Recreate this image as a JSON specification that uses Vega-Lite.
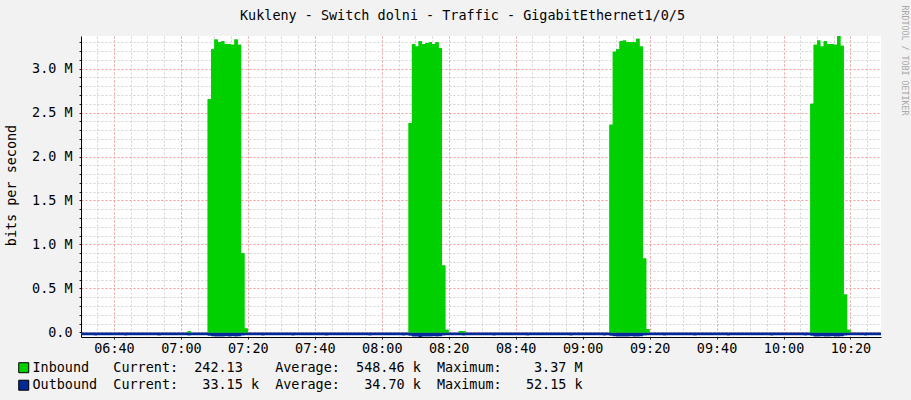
{
"$schema": "https://vega.github.io/schema/vega-lite/v6.json",
"width": 800, "height": 301,
"autosize": {"type": "none"},
"padding": {"left": 81, "top": 36, "right": 30, "bottom": 63},
"background": "#f2f2f2",
"config": {"view": {"fill": "#ffffff", "stroke": null}, "font": "DejaVu Sans Mono"},
"data": {"values": [
{"t":"2024-05-01T06:30Z","i":0.0002,"o":-0.032},{"t":"2024-05-01T06:31Z","i":0.0002,"o":-0.031},{"t":"2024-05-01T06:32Z","i":0.0002,"o":-0.033},{"t":"2024-05-01T06:33Z","i":0.0002,"o":-0.032},{"t":"2024-05-01T06:34Z","i":0.0002,"o":-0.034},{"t":"2024-05-01T06:35Z","i":0.0002,"o":-0.032},{"t":"2024-05-01T06:36Z","i":0.0002,"o":-0.031},{"t":"2024-05-01T06:37Z","i":0.0002,"o":-0.033},{"t":"2024-05-01T06:38Z","i":0.0002,"o":-0.032},{"t":"2024-05-01T06:39Z","i":0.0002,"o":-0.032},
{"t":"2024-05-01T06:40Z","i":0.0002,"o":-0.033},{"t":"2024-05-01T06:41Z","i":0.0002,"o":-0.031},{"t":"2024-05-01T06:42Z","i":0.0002,"o":-0.032},{"t":"2024-05-01T06:43Z","i":0.0002,"o":-0.034},{"t":"2024-05-01T06:44Z","i":0.0002,"o":-0.032},{"t":"2024-05-01T06:45Z","i":0.0002,"o":-0.031},{"t":"2024-05-01T06:46Z","i":0.0002,"o":-0.032},{"t":"2024-05-01T06:47Z","i":0.0002,"o":-0.033},{"t":"2024-05-01T06:48Z","i":0.0002,"o":-0.032},{"t":"2024-05-01T06:49Z","i":0.0002,"o":-0.031},
{"t":"2024-05-01T06:50Z","i":0.0002,"o":-0.032},{"t":"2024-05-01T06:51Z","i":0.0002,"o":-0.033},{"t":"2024-05-01T06:52Z","i":0.0002,"o":-0.032},{"t":"2024-05-01T06:53Z","i":0.0002,"o":-0.034},{"t":"2024-05-01T06:54Z","i":0.0002,"o":-0.032},{"t":"2024-05-01T06:55Z","i":0.0002,"o":-0.031},{"t":"2024-05-01T06:56Z","i":0.0002,"o":-0.032},{"t":"2024-05-01T06:57Z","i":0.0002,"o":-0.033},{"t":"2024-05-01T06:58Z","i":0.0002,"o":-0.032},{"t":"2024-05-01T06:59Z","i":0.0002,"o":-0.031},
{"t":"2024-05-01T07:00Z","i":0.0002,"o":-0.033},{"t":"2024-05-01T07:01Z","i":0.0002,"o":-0.032},{"t":"2024-05-01T07:02Z","i":0.012,"o":-0.034},{"t":"2024-05-01T07:03Z","i":0.0002,"o":-0.032},{"t":"2024-05-01T07:04Z","i":0.0002,"o":-0.031},{"t":"2024-05-01T07:05Z","i":0.0002,"o":-0.032},{"t":"2024-05-01T07:06Z","i":0.0002,"o":-0.033},{"t":"2024-05-01T07:07Z","i":0.0002,"o":-0.032},
{"t":"2024-05-01T07:08Z","i":2.65,"o":-0.038},{"t":"2024-05-01T07:09Z","i":3.22,"o":-0.045},{"t":"2024-05-01T07:10Z","i":3.33,"o":-0.047},{"t":"2024-05-01T07:11Z","i":3.30,"o":-0.046},{"t":"2024-05-01T07:12Z","i":3.31,"o":-0.046},{"t":"2024-05-01T07:13Z","i":3.28,"o":-0.045},{"t":"2024-05-01T07:14Z","i":3.28,"o":-0.046},{"t":"2024-05-01T07:15Z","i":3.27,"o":-0.045},{"t":"2024-05-01T07:16Z","i":3.33,"o":-0.047},{"t":"2024-05-01T07:17Z","i":3.27,"o":-0.045},{"t":"2024-05-01T07:18Z","i":0.90,"o":-0.036},{"t":"2024-05-01T07:19Z","i":0.045,"o":-0.032},
{"t":"2024-05-01T07:20Z","i":0.0002,"o":-0.032},{"t":"2024-05-01T07:21Z","i":0.0002,"o":-0.031},{"t":"2024-05-01T07:22Z","i":0.0002,"o":-0.033},{"t":"2024-05-01T07:23Z","i":0.0002,"o":-0.032},{"t":"2024-05-01T07:24Z","i":0.0002,"o":-0.034},{"t":"2024-05-01T07:25Z","i":0.0002,"o":-0.032},{"t":"2024-05-01T07:26Z","i":0.0002,"o":-0.031},{"t":"2024-05-01T07:27Z","i":0.0002,"o":-0.033},{"t":"2024-05-01T07:28Z","i":0.0002,"o":-0.032},{"t":"2024-05-01T07:29Z","i":0.0002,"o":-0.032},
{"t":"2024-05-01T07:30Z","i":0.0002,"o":-0.033},{"t":"2024-05-01T07:31Z","i":0.0002,"o":-0.031},{"t":"2024-05-01T07:32Z","i":0.0002,"o":-0.032},{"t":"2024-05-01T07:33Z","i":0.0002,"o":-0.034},{"t":"2024-05-01T07:34Z","i":0.0002,"o":-0.032},{"t":"2024-05-01T07:35Z","i":0.0002,"o":-0.031},{"t":"2024-05-01T07:36Z","i":0.0002,"o":-0.032},{"t":"2024-05-01T07:37Z","i":0.0002,"o":-0.033},{"t":"2024-05-01T07:38Z","i":0.0002,"o":-0.032},{"t":"2024-05-01T07:39Z","i":0.0002,"o":-0.031},
{"t":"2024-05-01T07:40Z","i":0.0002,"o":-0.032},{"t":"2024-05-01T07:41Z","i":0.0002,"o":-0.033},{"t":"2024-05-01T07:42Z","i":0.0002,"o":-0.032},{"t":"2024-05-01T07:43Z","i":0.0002,"o":-0.034},{"t":"2024-05-01T07:44Z","i":0.0002,"o":-0.032},{"t":"2024-05-01T07:45Z","i":0.0002,"o":-0.031},{"t":"2024-05-01T07:46Z","i":0.0002,"o":-0.032},{"t":"2024-05-01T07:47Z","i":0.0002,"o":-0.033},{"t":"2024-05-01T07:48Z","i":0.0002,"o":-0.032},{"t":"2024-05-01T07:49Z","i":0.0002,"o":-0.031},
{"t":"2024-05-01T07:50Z","i":0.0002,"o":-0.033},{"t":"2024-05-01T07:51Z","i":0.0002,"o":-0.032},{"t":"2024-05-01T07:52Z","i":0.0002,"o":-0.032},{"t":"2024-05-01T07:53Z","i":0.0002,"o":-0.031},{"t":"2024-05-01T07:54Z","i":0.0002,"o":-0.033},{"t":"2024-05-01T07:55Z","i":0.0002,"o":-0.032},{"t":"2024-05-01T07:56Z","i":0.0002,"o":-0.034},{"t":"2024-05-01T07:57Z","i":0.0002,"o":-0.032},{"t":"2024-05-01T07:58Z","i":0.0002,"o":-0.031},{"t":"2024-05-01T07:59Z","i":0.0002,"o":-0.032},
{"t":"2024-05-01T08:00Z","i":0.0002,"o":-0.033},{"t":"2024-05-01T08:01Z","i":0.0002,"o":-0.032},{"t":"2024-05-01T08:02Z","i":0.0002,"o":-0.031},{"t":"2024-05-01T08:03Z","i":0.0002,"o":-0.032},{"t":"2024-05-01T08:04Z","i":0.0002,"o":-0.033},{"t":"2024-05-01T08:05Z","i":0.0002,"o":-0.032},{"t":"2024-05-01T08:06Z","i":0.0002,"o":-0.034},{"t":"2024-05-01T08:07Z","i":0.0002,"o":-0.032},
{"t":"2024-05-01T08:08Z","i":2.38,"o":-0.038},{"t":"2024-05-01T08:09Z","i":3.28,"o":-0.046},{"t":"2024-05-01T08:10Z","i":3.25,"o":-0.046},{"t":"2024-05-01T08:11Z","i":3.31,"o":-0.0522},{"t":"2024-05-01T08:12Z","i":3.28,"o":-0.047},{"t":"2024-05-01T08:13Z","i":3.29,"o":-0.046},{"t":"2024-05-01T08:14Z","i":3.30,"o":-0.046},{"t":"2024-05-01T08:15Z","i":3.28,"o":-0.045},{"t":"2024-05-01T08:16Z","i":3.30,"o":-0.046},{"t":"2024-05-01T08:17Z","i":3.23,"o":-0.045},{"t":"2024-05-01T08:18Z","i":0.76,"o":-0.036},{"t":"2024-05-01T08:19Z","i":0.03,"o":-0.032},
{"t":"2024-05-01T08:20Z","i":0.0002,"o":-0.032},{"t":"2024-05-01T08:21Z","i":0.0002,"o":-0.031},{"t":"2024-05-01T08:22Z","i":0.0002,"o":-0.033},{"t":"2024-05-01T08:23Z","i":0.015,"o":-0.032},{"t":"2024-05-01T08:24Z","i":0.015,"o":-0.034},{"t":"2024-05-01T08:25Z","i":0.0002,"o":-0.032},{"t":"2024-05-01T08:26Z","i":0.0002,"o":-0.031},{"t":"2024-05-01T08:27Z","i":0.0002,"o":-0.033},{"t":"2024-05-01T08:28Z","i":0.0002,"o":-0.032},{"t":"2024-05-01T08:29Z","i":0.0002,"o":-0.032},
{"t":"2024-05-01T08:30Z","i":0.0002,"o":-0.033},{"t":"2024-05-01T08:31Z","i":0.0002,"o":-0.031},{"t":"2024-05-01T08:32Z","i":0.0002,"o":-0.032},{"t":"2024-05-01T08:33Z","i":0.0002,"o":-0.034},{"t":"2024-05-01T08:34Z","i":0.0002,"o":-0.032},{"t":"2024-05-01T08:35Z","i":0.0002,"o":-0.031},{"t":"2024-05-01T08:36Z","i":0.0002,"o":-0.032},{"t":"2024-05-01T08:37Z","i":0.0002,"o":-0.033},{"t":"2024-05-01T08:38Z","i":0.0002,"o":-0.032},{"t":"2024-05-01T08:39Z","i":0.0002,"o":-0.031},
{"t":"2024-05-01T08:40Z","i":0.0002,"o":-0.032},{"t":"2024-05-01T08:41Z","i":0.0002,"o":-0.033},{"t":"2024-05-01T08:42Z","i":0.0002,"o":-0.032},{"t":"2024-05-01T08:43Z","i":0.0002,"o":-0.034},{"t":"2024-05-01T08:44Z","i":0.0002,"o":-0.032},{"t":"2024-05-01T08:45Z","i":0.0002,"o":-0.031},{"t":"2024-05-01T08:46Z","i":0.0002,"o":-0.032},{"t":"2024-05-01T08:47Z","i":0.0002,"o":-0.033},{"t":"2024-05-01T08:48Z","i":0.0002,"o":-0.032},{"t":"2024-05-01T08:49Z","i":0.0002,"o":-0.031},
{"t":"2024-05-01T08:50Z","i":0.0002,"o":-0.033},{"t":"2024-05-01T08:51Z","i":0.0002,"o":-0.032},{"t":"2024-05-01T08:52Z","i":0.0002,"o":-0.032},{"t":"2024-05-01T08:53Z","i":0.0002,"o":-0.031},{"t":"2024-05-01T08:54Z","i":0.0002,"o":-0.033},{"t":"2024-05-01T08:55Z","i":0.0002,"o":-0.032},{"t":"2024-05-01T08:56Z","i":0.0002,"o":-0.034},{"t":"2024-05-01T08:57Z","i":0.0002,"o":-0.032},{"t":"2024-05-01T08:58Z","i":0.0002,"o":-0.031},{"t":"2024-05-01T08:59Z","i":0.0002,"o":-0.032},
{"t":"2024-05-01T09:00Z","i":0.0002,"o":-0.033},{"t":"2024-05-01T09:01Z","i":0.0002,"o":-0.032},{"t":"2024-05-01T09:02Z","i":0.0002,"o":-0.031},{"t":"2024-05-01T09:03Z","i":0.0002,"o":-0.032},{"t":"2024-05-01T09:04Z","i":0.0002,"o":-0.033},{"t":"2024-05-01T09:05Z","i":0.0002,"o":-0.032},{"t":"2024-05-01T09:06Z","i":0.0002,"o":-0.034},{"t":"2024-05-01T09:07Z","i":0.0002,"o":-0.032},
{"t":"2024-05-01T09:08Z","i":2.36,"o":-0.038},{"t":"2024-05-01T09:09Z","i":3.19,"o":-0.045},{"t":"2024-05-01T09:10Z","i":3.22,"o":-0.046},{"t":"2024-05-01T09:11Z","i":3.31,"o":-0.047},{"t":"2024-05-01T09:12Z","i":3.32,"o":-0.046},{"t":"2024-05-01T09:13Z","i":3.30,"o":-0.046},{"t":"2024-05-01T09:14Z","i":3.30,"o":-0.045},{"t":"2024-05-01T09:15Z","i":3.30,"o":-0.046},{"t":"2024-05-01T09:16Z","i":3.34,"o":-0.047},{"t":"2024-05-01T09:17Z","i":3.25,"o":-0.045},{"t":"2024-05-01T09:18Z","i":0.84,"o":-0.036},{"t":"2024-05-01T09:19Z","i":0.04,"o":-0.032},
{"t":"2024-05-01T09:20Z","i":0.0002,"o":-0.032},{"t":"2024-05-01T09:21Z","i":0.0002,"o":-0.031},{"t":"2024-05-01T09:22Z","i":0.0002,"o":-0.033},{"t":"2024-05-01T09:23Z","i":0.0002,"o":-0.032},{"t":"2024-05-01T09:24Z","i":0.0002,"o":-0.034},{"t":"2024-05-01T09:25Z","i":0.0002,"o":-0.032},{"t":"2024-05-01T09:26Z","i":0.0002,"o":-0.031},{"t":"2024-05-01T09:27Z","i":0.0002,"o":-0.033},{"t":"2024-05-01T09:28Z","i":0.0002,"o":-0.032},{"t":"2024-05-01T09:29Z","i":0.0002,"o":-0.032},
{"t":"2024-05-01T09:30Z","i":0.0002,"o":-0.033},{"t":"2024-05-01T09:31Z","i":0.0002,"o":-0.031},{"t":"2024-05-01T09:32Z","i":0.0002,"o":-0.032},{"t":"2024-05-01T09:33Z","i":0.0002,"o":-0.034},{"t":"2024-05-01T09:34Z","i":0.0002,"o":-0.032},{"t":"2024-05-01T09:35Z","i":0.0002,"o":-0.031},{"t":"2024-05-01T09:36Z","i":0.0002,"o":-0.032},{"t":"2024-05-01T09:37Z","i":0.0002,"o":-0.033},{"t":"2024-05-01T09:38Z","i":0.0002,"o":-0.032},{"t":"2024-05-01T09:39Z","i":0.0002,"o":-0.031},
{"t":"2024-05-01T09:40Z","i":0.0002,"o":-0.032},{"t":"2024-05-01T09:41Z","i":0.0002,"o":-0.033},{"t":"2024-05-01T09:42Z","i":0.0002,"o":-0.032},{"t":"2024-05-01T09:43Z","i":0.0002,"o":-0.034},{"t":"2024-05-01T09:44Z","i":0.0002,"o":-0.032},{"t":"2024-05-01T09:45Z","i":0.0002,"o":-0.031},{"t":"2024-05-01T09:46Z","i":0.0002,"o":-0.032},{"t":"2024-05-01T09:47Z","i":0.0002,"o":-0.033},{"t":"2024-05-01T09:48Z","i":0.0002,"o":-0.032},{"t":"2024-05-01T09:49Z","i":0.0002,"o":-0.031},
{"t":"2024-05-01T09:50Z","i":0.0002,"o":-0.033},{"t":"2024-05-01T09:51Z","i":0.0002,"o":-0.032},{"t":"2024-05-01T09:52Z","i":0.0002,"o":-0.032},{"t":"2024-05-01T09:53Z","i":0.0002,"o":-0.031},{"t":"2024-05-01T09:54Z","i":0.0002,"o":-0.033},{"t":"2024-05-01T09:55Z","i":0.0002,"o":-0.032},{"t":"2024-05-01T09:56Z","i":0.0002,"o":-0.034},{"t":"2024-05-01T09:57Z","i":0.0002,"o":-0.032},{"t":"2024-05-01T09:58Z","i":0.0002,"o":-0.031},{"t":"2024-05-01T09:59Z","i":0.0002,"o":-0.032},
{"t":"2024-05-01T10:00Z","i":0.0002,"o":-0.033},{"t":"2024-05-01T10:01Z","i":0.0002,"o":-0.032},{"t":"2024-05-01T10:02Z","i":0.0002,"o":-0.031},{"t":"2024-05-01T10:03Z","i":0.0002,"o":-0.032},{"t":"2024-05-01T10:04Z","i":0.0002,"o":-0.033},{"t":"2024-05-01T10:05Z","i":0.0002,"o":-0.032},{"t":"2024-05-01T10:06Z","i":0.0002,"o":-0.034},{"t":"2024-05-01T10:07Z","i":0.0002,"o":-0.032},
{"t":"2024-05-01T10:08Z","i":2.60,"o":-0.038},{"t":"2024-05-01T10:09Z","i":3.27,"o":-0.046},{"t":"2024-05-01T10:10Z","i":3.32,"o":-0.047},{"t":"2024-05-01T10:11Z","i":3.25,"o":-0.045},{"t":"2024-05-01T10:12Z","i":3.31,"o":-0.046},{"t":"2024-05-01T10:13Z","i":3.28,"o":-0.046},{"t":"2024-05-01T10:14Z","i":3.28,"o":-0.045},{"t":"2024-05-01T10:15Z","i":3.27,"o":-0.046},{"t":"2024-05-01T10:16Z","i":3.37,"o":-0.047},{"t":"2024-05-01T10:17Z","i":3.26,"o":-0.045},{"t":"2024-05-01T10:18Z","i":0.43,"o":-0.035},{"t":"2024-05-01T10:19Z","i":0.03,"o":-0.032},
{"t":"2024-05-01T10:20Z","i":0.0002,"o":-0.032},{"t":"2024-05-01T10:21Z","i":0.0002,"o":-0.031},{"t":"2024-05-01T10:22Z","i":0.0002,"o":-0.033},{"t":"2024-05-01T10:23Z","i":0.0002,"o":-0.032},{"t":"2024-05-01T10:24Z","i":0.0002,"o":-0.034},{"t":"2024-05-01T10:25Z","i":0.0002,"o":-0.032},{"t":"2024-05-01T10:26Z","i":0.0002,"o":-0.031},{"t":"2024-05-01T10:27Z","i":0.0002,"o":-0.033},{"t":"2024-05-01T10:28Z","i":0.0002,"o":-0.032},{"t":"2024-05-01T10:29Z","i":0.00024,"o":-0.0332},{"t":"2024-05-01T10:30Z","i":0.00024,"o":-0.0332}
]},
"resolve": {"axis": {"x": "independent", "y": "independent"}},
"layer": [
{"mark": {"type": "area", "interpolate": "step-after", "clip": true},
 "encoding": {
  "x": {"field": "t", "type": "temporal",
   "scale": {"type": "utc", "domain": [{"year":2024,"month":5,"date":1,"hours":6,"minutes":30,"seconds":10,"utc":true},{"year":2024,"month":5,"date":1,"hours":10,"minutes":29,"seconds":7,"utc":true}]},
   "axis": {"orient": "bottom", "title": null, "labels": false, "ticks": false, "domain": false,
    "values": [{"year":2024,"month":5,"date":1,"hours":6,"minutes":35,"utc":true},{"year":2024,"month":5,"date":1,"hours":6,"minutes":45,"utc":true},{"year":2024,"month":5,"date":1,"hours":6,"minutes":50,"utc":true},{"year":2024,"month":5,"date":1,"hours":6,"minutes":55,"utc":true},
     {"year":2024,"month":5,"date":1,"hours":7,"minutes":5,"utc":true},{"year":2024,"month":5,"date":1,"hours":7,"minutes":10,"utc":true},{"year":2024,"month":5,"date":1,"hours":7,"minutes":15,"utc":true},{"year":2024,"month":5,"date":1,"hours":7,"minutes":25,"utc":true},{"year":2024,"month":5,"date":1,"hours":7,"minutes":30,"utc":true},{"year":2024,"month":5,"date":1,"hours":7,"minutes":35,"utc":true},{"year":2024,"month":5,"date":1,"hours":7,"minutes":45,"utc":true},{"year":2024,"month":5,"date":1,"hours":7,"minutes":50,"utc":true},{"year":2024,"month":5,"date":1,"hours":7,"minutes":55,"utc":true},
     {"year":2024,"month":5,"date":1,"hours":8,"minutes":5,"utc":true},{"year":2024,"month":5,"date":1,"hours":8,"minutes":10,"utc":true},{"year":2024,"month":5,"date":1,"hours":8,"minutes":15,"utc":true},{"year":2024,"month":5,"date":1,"hours":8,"minutes":25,"utc":true},{"year":2024,"month":5,"date":1,"hours":8,"minutes":30,"utc":true},{"year":2024,"month":5,"date":1,"hours":8,"minutes":35,"utc":true},{"year":2024,"month":5,"date":1,"hours":8,"minutes":45,"utc":true},{"year":2024,"month":5,"date":1,"hours":8,"minutes":50,"utc":true},{"year":2024,"month":5,"date":1,"hours":8,"minutes":55,"utc":true},
     {"year":2024,"month":5,"date":1,"hours":9,"minutes":5,"utc":true},{"year":2024,"month":5,"date":1,"hours":9,"minutes":10,"utc":true},{"year":2024,"month":5,"date":1,"hours":9,"minutes":15,"utc":true},{"year":2024,"month":5,"date":1,"hours":9,"minutes":25,"utc":true},{"year":2024,"month":5,"date":1,"hours":9,"minutes":30,"utc":true},{"year":2024,"month":5,"date":1,"hours":9,"minutes":35,"utc":true},{"year":2024,"month":5,"date":1,"hours":9,"minutes":45,"utc":true},{"year":2024,"month":5,"date":1,"hours":9,"minutes":50,"utc":true},{"year":2024,"month":5,"date":1,"hours":9,"minutes":55,"utc":true},
     {"year":2024,"month":5,"date":1,"hours":10,"minutes":5,"utc":true},{"year":2024,"month":5,"date":1,"hours":10,"minutes":10,"utc":true},{"year":2024,"month":5,"date":1,"hours":10,"minutes":15,"utc":true},{"year":2024,"month":5,"date":1,"hours":10,"minutes":25,"utc":true}],
    "grid": true, "gridDash": [2, 2], "gridWidth": 1, "gridColor": "#d2d2d2"}},
  "y": {"field": "i", "type": "quantitative",
   "scale": {"domain": [-0.05215, 3.37], "nice": false},
   "axis": {"orient": "left", "title": null, "labels": false, "domain": false, "tickSize": 2, "tickColor": "#202020",
    "values": [0.1,0.2,0.3,0.4,0.6,0.7,0.8,0.9,1.1,1.2,1.3,1.4,1.6,1.7,1.8,1.9,2.1,2.2,2.3,2.4,2.6,2.7,2.8,2.9,3.1,3.2,3.3],
    "grid": true, "gridDash": [2, 2], "gridWidth": 1, "gridColor": "#d2d2d2"}},
  "y2": {"datum": 0},
  "color": {"datum": "Inbound", "type": "nominal",
   "scale": {"domain": ["Inbound", "Outbound"], "range": ["#00cf00", "#002a97"]},
   "legend": {"orient": "none", "legendX": -64, "legendY": 325, "direction": "vertical", "title": null,
    "symbolType": "square", "symbolSize": 100, "symbolStrokeColor": "#000000", "symbolStrokeWidth": 1, "symbolOpacity": 1,
    "labelFont": "DejaVu Sans Mono", "labelFontSize": 13.45, "labelColor": "#000000", "labelOffset": 2, "rowPadding": 2.5, "padding": 0, "labelLimit": 0,
    "labelExpr": "datum.label == 'Inbound' ? 'Inbound\u00a0\u00a0\u00a0Current:\u00a0\u00a0242.13\u00a0\u00a0\u00a0\u00a0Average:\u00a0\u00a0548.46\u00a0k\u00a0\u00a0Maximum:\u00a0\u00a0\u00a0\u00a03.37\u00a0M' : 'Outbound\u00a0\u00a0Current:\u00a0\u00a0\u00a033.15\u00a0k\u00a0\u00a0Average:\u00a0\u00a0\u00a034.70\u00a0k\u00a0\u00a0Maximum:\u00a0\u00a0\u00a052.15\u00a0k'"}}
 }},
{"mark": {"type": "area", "interpolate": "step-after", "clip": true},
 "encoding": {
  "x": {"field": "t", "type": "temporal",
   "axis": {"orient": "bottom", "title": null, "format": "%H:%M",
    "values": [{"year":2024,"month":5,"date":1,"hours":6,"minutes":40,"utc":true},{"year":2024,"month":5,"date":1,"hours":7,"minutes":0,"utc":true},{"year":2024,"month":5,"date":1,"hours":7,"minutes":20,"utc":true},{"year":2024,"month":5,"date":1,"hours":7,"minutes":40,"utc":true},{"year":2024,"month":5,"date":1,"hours":8,"minutes":0,"utc":true},{"year":2024,"month":5,"date":1,"hours":8,"minutes":20,"utc":true},{"year":2024,"month":5,"date":1,"hours":8,"minutes":40,"utc":true},{"year":2024,"month":5,"date":1,"hours":9,"minutes":0,"utc":true},{"year":2024,"month":5,"date":1,"hours":9,"minutes":20,"utc":true},{"year":2024,"month":5,"date":1,"hours":9,"minutes":40,"utc":true},{"year":2024,"month":5,"date":1,"hours":10,"minutes":0,"utc":true},{"year":2024,"month":5,"date":1,"hours":10,"minutes":20,"utc":true}],
    "labelFont": "DejaVu Sans Mono", "labelFontSize": 13.45, "labelColor": "#000000", "labelPadding": 2, "labelFlush": false, "labelOverlap": false,
    "tickSize": 2, "tickColor": "#202020", "domainColor": "#000000", "domainWidth": 1,
    "grid": true, "gridDash": [2, 2], "gridWidth": 1, "gridColor": "#f29b9b"}},
  "y": {"field": "o", "type": "quantitative",
   "axis": {"orient": "left", "title": "bits per second", "titleX": -70, "titleY": 149, "titleAngle": -90, "titleAlign": "center", "titleBaseline": "middle",
    "titleFont": "DejaVu Sans Mono", "titleFontSize": 13.45, "titleFontWeight": "normal", "titleColor": "#000000",
    "values": [0, 0.5, 1, 1.5, 2, 2.5, 3],
    "labelExpr": "datum.value == 0 ? '0.0' : format(datum.value, '.1f') + ' M'",
    "labelFont": "DejaVu Sans Mono", "labelFontSize": 13.45, "labelColor": "#000000", "labelPadding": 7, "labelFlush": false, "labelOverlap": false,
    "tickSize": 2, "tickColor": "#202020", "domainColor": "#000000", "domainWidth": 1,
    "grid": true, "gridDash": [2, 2], "gridWidth": 1, "gridColor": "#f29b9b"}},
  "y2": {"datum": 0},
  "color": {"datum": "Outbound", "type": "nominal"}
 }},
{"mark": {"type": "area", "interpolate": "step-after", "clip": true},
 "encoding": {
  "x": {"field": "t", "type": "temporal",
   "axis": {"orient": "top", "title": "Kukleny - Switch dolni - Traffic - GigabitEthernet1/0/5", "titleX": 381, "titleY": -17, "titleAlign": "center", "titleBaseline": "alphabetic",
    "titleFont": "DejaVu Sans Mono", "titleFontSize": 13.45, "titleFontWeight": "normal", "titleColor": "#000000",
    "labels": false, "ticks": false, "domain": false, "grid": false}},
  "y": {"field": "i", "type": "quantitative",
   "axis": {"orient": "right", "title": "RRDTOOL / TOBI OETIKER", "titleX": 22, "titleY": -31, "titleAngle": 90, "titleAlign": "left", "titleBaseline": "middle",
    "titleFont": "DejaVu Sans Mono", "titleFontSize": 8.3, "titleFontWeight": "normal", "titleColor": "#a8a8a8",
    "labels": false, "ticks": false, "domain": false, "grid": false}},
  "y2": {"datum": 0},
  "color": {"datum": "Inbound", "type": "nominal"}
 }}
]
}
